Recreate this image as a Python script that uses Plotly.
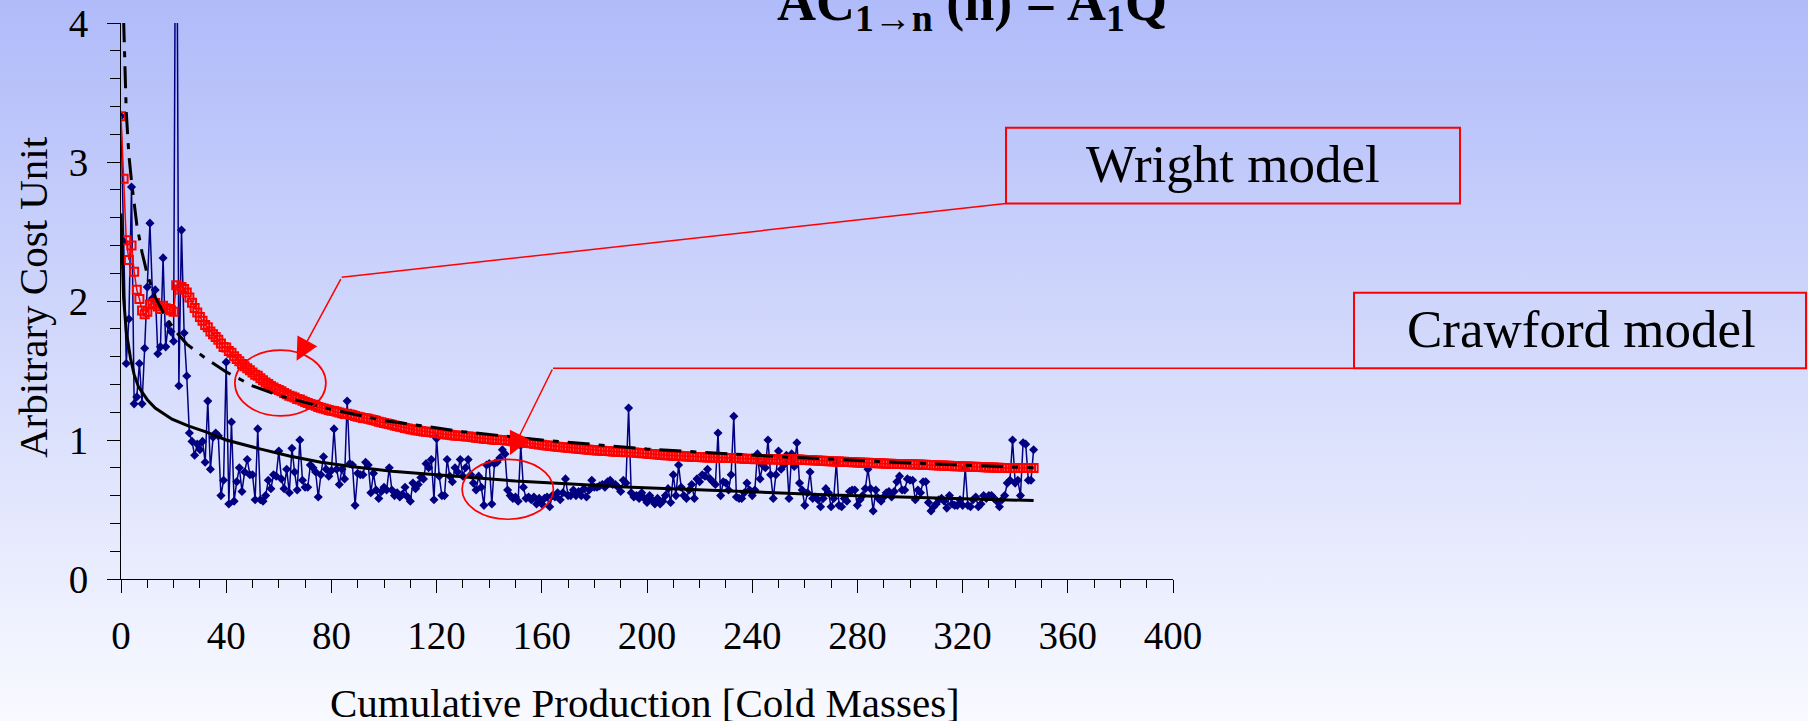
import base64
import plotly.graph_objects as go

# ---------------- data ----------------
production = list(range(348))  # cumulative production index of each cold mass

actual_cost = [
    3.33, 2.43, 1.55, 1.87, 2.82, 1.26, 1.31, 1.55, 1.26, 1.66,
    2.10, 2.56, 2.02, 2.08, 1.62, 1.67, 2.31, 1.67, 1.83, 1.78,
    1.71, 6.10, 1.39, 2.51, 1.77, 1.46, 1.05, 0.99, 0.89, 0.97,
    0.93, 0.99, 0.84, 1.28, 0.79, 1.02, 1.05, 1.03, 0.60, 0.71,
    1.56, 0.54, 1.13, 0.56, 0.70, 0.80, 0.63, 0.77, 0.86, 0.75,
    0.75, 0.57, 1.08, 0.57, 0.56, 0.60, 0.71, 0.65, 0.75, 0.74,
    0.92, 0.72, 0.65, 0.79, 0.62, 0.94, 0.77, 0.64, 1.00, 0.71,
    0.66, 0.66, 0.82, 0.80, 0.77, 0.59, 0.75, 0.88, 0.79, 0.74,
    0.78, 1.08, 0.79, 0.68, 0.79, 0.72, 1.28, 0.83, 0.82, 0.53,
    0.76, 0.75, 0.75, 0.84, 0.82, 0.62, 0.76, 0.64, 0.58, 0.63,
    0.66, 0.64, 0.80, 0.64, 0.60, 0.62, 0.59, 0.61, 0.66, 0.59,
    0.56, 0.69, 0.65, 0.68, 0.73, 0.72, 0.83, 0.80, 0.86, 0.57,
    1.01, 0.74, 0.60, 0.60, 0.86, 0.74, 0.70, 0.80, 0.77, 0.86,
    0.74, 0.80, 0.86, 0.75, 0.69, 0.64, 0.74, 0.66, 0.53, 0.82,
    0.83, 0.54, 0.83, 0.84, 0.87, 0.93, 0.90, 0.64, 0.60, 0.58,
    0.59, 0.56, 0.96, 0.66, 0.58, 0.59, 0.57, 0.59, 0.54, 0.58,
    0.54, 0.58, 0.59, 0.52, 0.60, 0.59, 0.62, 0.57, 0.62, 0.72,
    0.60, 0.60, 0.64, 0.60, 0.63, 0.60, 0.65, 0.59, 0.64, 0.71,
    0.66, 0.66, 0.67, 0.68, 0.66, 0.70, 0.71, 0.68, 0.68, 0.66,
    0.63, 0.71, 0.69, 1.23, 0.62, 0.59, 0.60, 0.58, 0.62, 0.58,
    0.55, 0.60, 0.57, 0.54, 0.58, 0.54, 0.56, 0.60, 0.65, 0.55,
    0.75, 0.60, 0.82, 0.66, 0.60, 0.58, 0.64, 0.68, 0.58, 0.72,
    0.70, 0.75, 0.74, 0.79, 0.72, 0.70, 0.68, 1.05, 0.60, 0.70,
    0.69, 0.64, 0.75, 1.17, 0.59, 0.58, 0.58, 0.62, 0.69, 0.64,
    0.60, 0.64, 0.90, 0.72, 0.82, 0.80, 1.00, 0.75, 0.58, 0.75,
    0.92, 0.79, 0.82, 0.89, 0.58, 0.90, 0.81, 0.98, 0.69, 0.64,
    0.53, 0.62, 0.77, 0.58, 0.59, 0.57, 0.52, 0.58, 0.65, 0.62,
    0.52, 0.58, 0.84, 0.53, 0.52, 0.58, 0.56, 0.63, 0.64, 0.64,
    0.53, 0.57, 0.60, 0.65, 0.79, 0.65, 0.49, 0.64, 0.58, 0.56,
    0.59, 0.62, 0.63, 0.59, 0.63, 0.70, 0.74, 0.64, 0.64, 0.72,
    0.71, 0.71, 0.57, 0.64, 0.62, 0.70, 0.70, 0.55, 0.49, 0.52,
    0.54, 0.57, 0.58, 0.56, 0.51, 0.60, 0.54, 0.53, 0.53, 0.57,
    0.53, 0.80, 0.53, 0.52, 0.57, 0.59, 0.52, 0.54, 0.60, 0.58,
    0.60, 0.60, 0.58, 0.56, 0.52, 0.57, 0.60, 0.69, 0.71, 1.00,
    0.69, 0.71, 0.60, 0.98, 0.97, 0.71, 0.71, 0.93,
]

average_cost = [
    3.330, 2.880, 2.437, 2.295, 2.400, 2.210, 2.081, 2.015, 1.931, 1.904,
    1.922, 1.975, 1.978, 1.986, 1.961, 1.943, 1.965, 1.948, 1.942, 1.934,
    1.923, 2.113, 2.082, 2.100, 2.086, 2.062, 2.025, 1.988, 1.950, 1.917,
    1.885, 1.858, 1.827, 1.811, 1.781, 1.760, 1.741, 1.722, 1.694, 1.669,
    1.666, 1.640, 1.628, 1.603, 1.583, 1.566, 1.546, 1.530, 1.517, 1.501,
    1.486, 1.469, 1.462, 1.445, 1.429, 1.414, 1.402, 1.389, 1.378, 1.367,
    1.360, 1.350, 1.339, 1.330, 1.319, 1.313, 1.305, 1.295, 1.291, 1.283,
    1.274, 1.266, 1.259, 1.253, 1.247, 1.238, 1.232, 1.227, 1.222, 1.216,
    1.210, 1.209, 1.204, 1.197, 1.193, 1.187, 1.188, 1.184, 1.180, 1.173,
    1.168, 1.164, 1.159, 1.156, 1.152, 1.147, 1.143, 1.138, 1.132, 1.127,
    1.122, 1.118, 1.115, 1.110, 1.105, 1.101, 1.096, 1.091, 1.087, 1.083,
    1.078, 1.075, 1.071, 1.068, 1.065, 1.062, 1.060, 1.057, 1.056, 1.052,
    1.051, 1.049, 1.045, 1.042, 1.040, 1.038, 1.035, 1.033, 1.031, 1.030,
    1.028, 1.026, 1.025, 1.023, 1.020, 1.017, 1.015, 1.013, 1.009, 1.008,
    1.007, 1.003, 1.002, 1.001, 1.000, 1.000, 0.999, 0.997, 0.994, 0.991,
    0.989, 0.986, 0.986, 0.983, 0.981, 0.978, 0.976, 0.973, 0.971, 0.968,
    0.965, 0.963, 0.961, 0.958, 0.956, 0.954, 0.952, 0.949, 0.948, 0.946,
    0.944, 0.942, 0.940, 0.938, 0.937, 0.935, 0.933, 0.931, 0.930, 0.928,
    0.927, 0.925, 0.924, 0.923, 0.921, 0.920, 0.919, 0.918, 0.916, 0.915,
    0.914, 0.913, 0.911, 0.913, 0.912, 0.910, 0.908, 0.907, 0.905, 0.904,
    0.902, 0.900, 0.899, 0.897, 0.895, 0.894, 0.892, 0.891, 0.890, 0.888,
    0.887, 0.886, 0.886, 0.885, 0.883, 0.882, 0.881, 0.880, 0.878, 0.878,
    0.877, 0.876, 0.876, 0.875, 0.875, 0.874, 0.873, 0.874, 0.873, 0.872,
    0.871, 0.870, 0.870, 0.871, 0.870, 0.868, 0.867, 0.866, 0.865, 0.864,
    0.863, 0.862, 0.863, 0.862, 0.862, 0.862, 0.862, 0.862, 0.861, 0.860,
    0.860, 0.860, 0.860, 0.860, 0.859, 0.859, 0.859, 0.859, 0.859, 0.858,
    0.857, 0.856, 0.855, 0.854, 0.853, 0.852, 0.851, 0.850, 0.849, 0.848,
    0.847, 0.846, 0.846, 0.845, 0.844, 0.843, 0.842, 0.841, 0.840, 0.840,
    0.839, 0.838, 0.837, 0.836, 0.836, 0.835, 0.834, 0.833, 0.833, 0.832,
    0.831, 0.830, 0.829, 0.829, 0.828, 0.828, 0.827, 0.827, 0.826, 0.826,
    0.825, 0.825, 0.824, 0.823, 0.823, 0.822, 0.822, 0.821, 0.820, 0.819,
    0.818, 0.817, 0.817, 0.816, 0.815, 0.814, 0.813, 0.812, 0.811, 0.811,
    0.810, 0.810, 0.809, 0.808, 0.807, 0.807, 0.806, 0.805, 0.804, 0.804,
    0.803, 0.802, 0.802, 0.801, 0.800, 0.799, 0.799, 0.799, 0.798, 0.799,
    0.799, 0.798, 0.798, 0.798, 0.799, 0.799, 0.798, 0.799,
]

# Wright model fit (dash-dot black curve), read at selected positions
wright_fit_x = [1, 2, 3, 4, 6, 8, 10, 13, 16, 20, 25, 32, 40, 50, 60, 80,
                100, 130, 160, 200, 250, 300, 347]
wright_fit_y = [4.02, 3.36, 3.05, 2.86, 2.55, 2.35, 2.19, 2.03, 1.92, 1.80,
                1.69, 1.59, 1.49, 1.39, 1.32, 1.22, 1.14, 1.06, 1.00, 0.935,
                0.88, 0.835, 0.80]

# Crawford model fit (solid black curve), read at selected positions
crawford_fit_x = [0, 0.5, 1, 2, 3.6, 5, 6.7, 10, 13, 19.4, 25.8, 32, 40, 52,
                  64, 76, 89, 103, 117, 150, 194, 230, 270, 310, 347]
crawford_fit_y = [2.63, 2.28, 2.02, 1.78, 1.59, 1.47, 1.38, 1.29, 1.23, 1.15,
                  1.10, 1.06, 1.00, 0.94, 0.885, 0.84, 0.805, 0.775, 0.753,
                  0.705, 0.66, 0.632, 0.605, 0.583, 0.564]

x_tick_values = [0, 40, 80, 120, 160, 200, 240, 280, 320, 360, 400]
y_tick_values = [0, 1, 2, 3, 4]

# ---------------- layout geometry ----------------
W, H = 1808, 721
ML, MR, MT, MB = 121, 635, 23, 142
PW = W - ML - MR
PH = H - MT - MB


def pxx(p):
    return (p - ML) / PW


def pxy(p):
    return (H - MB - p) / PH


FONT = "Liberation Serif, Times New Roman, serif"
RED = "#FF0000"
NAVY = "#000080"

# vertical gradient background as an inline SVG image
svg = ('<svg xmlns="http://www.w3.org/2000/svg" width="20" height="200" '
       'preserveAspectRatio="none"><defs><linearGradient id="g" x1="0" y1="0" '
       'x2="0" y2="1"><stop offset="0" stop-color="#B0BBF9"/>'
       '<stop offset="1" stop-color="#F9FAFF"/></linearGradient></defs>'
       '<rect width="20" height="200" fill="url(#g)"/></svg>')
bg_src = "data:image/svg+xml;base64," + base64.b64encode(svg.encode()).decode()

fig = go.Figure()

fig.add_trace(go.Scatter(
    x=production, y=actual_cost, mode="lines+markers", name="Actual cost",
    line=dict(color=NAVY, width=1.5),
    marker=dict(symbol="diamond", size=7, color=NAVY),
))
fig.add_trace(go.Scatter(
    x=production, y=average_cost, mode="lines+markers", name="Cumulative average",
    line=dict(color=RED, width=1.5),
    marker=dict(symbol="square-open", size=8, color=RED, line=dict(width=2)),
))
fig.add_trace(go.Scatter(
    x=crawford_fit_x, y=crawford_fit_y, mode="lines", name="Crawford fit",
    line=dict(color="black", width=3),
))
fig.add_trace(go.Scatter(
    x=wright_fit_x, y=wright_fit_y, mode="lines", name="Wright fit",
    line=dict(color="black", width=3, dash="22px,9px,6px,9px"),
))

shapes = [
    # callout boxes
    dict(type="rect", xref="paper", yref="paper",
         x0=pxx(1006), x1=pxx(1460), y0=pxy(203.5), y1=pxy(127.7),
         line=dict(color=RED, width=2)),
    dict(type="rect", xref="paper", yref="paper",
         x0=pxx(1354), x1=pxx(1806), y0=pxy(368.3), y1=pxy(292.7),
         line=dict(color=RED, width=2)),
    # leader lines
    dict(type="line", xref="paper", yref="paper",
         x0=pxx(1006), y0=pxy(203.5), x1=pxx(341.7), y1=pxy(277.3),
         line=dict(color=RED, width=1.5)),
    dict(type="line", xref="paper", yref="paper",
         x0=pxx(1354), y0=pxy(368.3), x1=pxx(553), y1=pxy(368.3),
         line=dict(color=RED, width=1.5)),
    # ellipses
    dict(type="circle", xref="x", yref="y", x0=43.3, x1=77.9, y0=1.173, y1=1.647,
         line=dict(color=RED, width=1.7)),
    dict(type="circle", xref="x", yref="y", x0=129.7, x1=164.4, y0=0.43, y1=0.86,
         line=dict(color=RED, width=1.7)),
]

annotations = [
    # title, its top is cut by the page edge
    dict(text="<b>AC<sub>1→n</sub> (n) = A<sub>1</sub>Q<sup>r</sup></b>",
         xref="paper", yref="paper", x=pxx(775), y=pxy(41),
         xanchor="left", yanchor="bottom", showarrow=False,
         font=dict(family=FONT, size=54, color="black")),
    dict(text="Wright model", xref="paper", yref="paper",
         x=pxx(1233), y=pxy(164), xanchor="center", yanchor="middle",
         showarrow=False, font=dict(family=FONT, size=53, color="black")),
    dict(text="Crawford model", xref="paper", yref="paper",
         x=pxx(1581), y=pxy(329), xanchor="center", yanchor="middle",
         showarrow=False, font=dict(family=FONT, size=53, color="black")),
    # arrows
    dict(text="", xref="paper", yref="paper", x=pxx(296.6), y=pxy(360.7),
         ax=45, ay=-83, showarrow=True, arrowhead=2, arrowsize=3,
         arrowwidth=1.5, arrowcolor=RED, standoff=0),
    dict(text="", xref="paper", yref="paper", x=pxx(510), y=pxy(455),
         ax=43, ay=-87, showarrow=True, arrowhead=2, arrowsize=3,
         arrowwidth=1.5, arrowcolor=RED, standoff=0),
    # axis titles
    dict(text="Cumulative Production [Cold Masses]", xref="paper", yref="paper",
         x=pxx(645), y=pxy(703), xanchor="center", yanchor="middle",
         showarrow=False, font=dict(family=FONT, size=41, color="black")),
    dict(text="Arbitrary Cost Unit", xref="paper", yref="paper",
         x=pxx(33), y=pxy(297), xanchor="center", yanchor="middle",
         textangle=-90, showarrow=False,
         font=dict(family=FONT, size=41, color="black")),
]

fig.update_layout(
    width=W, height=H, autosize=False,
    margin=dict(l=ML, r=MR, t=MT, b=MB, pad=0, autoexpand=False),
    paper_bgcolor="#F9FAFF", plot_bgcolor="rgba(0,0,0,0)",
    showlegend=False,
    font=dict(family=FONT, color="black"),
    shapes=shapes, annotations=annotations,
    images=[dict(source=bg_src, xref="paper", yref="paper",
                 x=pxx(0), y=pxy(0), sizex=W / PW, sizey=H / PH,
                 xanchor="left", yanchor="top", sizing="stretch",
                 layer="below", opacity=1)],
)

fig.update_xaxes(
    range=[0, 400], tickvals=x_tick_values, ticktext=[str(v) for v in x_tick_values],
    automargin=False,
    showline=True, linecolor="black", linewidth=1, mirror=False,
    ticks="outside", ticklen=13, tickwidth=1, tickcolor="black",
    tickfont=dict(family=FONT, size=39, color="black"),
    ticklabelstandoff=9,
    showgrid=False, zeroline=False,
    minor=dict(dtick=10, tick0=0, ticks="outside", ticklen=8, tickwidth=1,
               tickcolor="black", showgrid=False),
)
fig.update_yaxes(
    range=[0, 4], tickvals=y_tick_values, ticktext=[str(v) for v in y_tick_values],
    automargin=False,
    showline=True, linecolor="black", linewidth=1, mirror=False,
    ticks="outside", ticklen=13, tickwidth=1, tickcolor="black",
    tickfont=dict(family=FONT, size=39, color="black"),
    ticklabelstandoff=11,
    showgrid=False, zeroline=False,
    minor=dict(dtick=0.2, tick0=0, ticks="outside", ticklen=10, tickwidth=1,
               tickcolor="black", showgrid=False),
)

fig.write_html(
    "out.html",
    config={"displayModeBar": False},
    post_script="document.body.style.margin='0px';document.body.style.overflow='hidden';",
)
